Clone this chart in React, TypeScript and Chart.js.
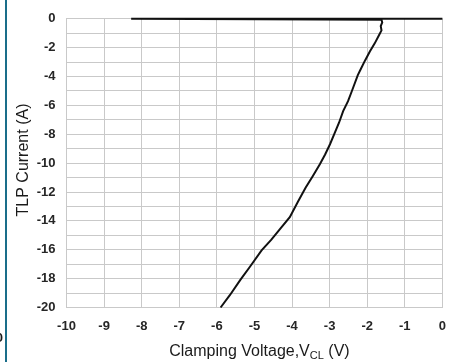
import React, { useEffect, useRef } from "react";
import { Chart, registerables } from "chart.js";

Chart.register(...registerables);

const voltage = [0, -8.28, -1.62, -1.6, -1.64, -1.62, -1.68, -1.8, -1.93, -2.06, -2.18, -2.25, -2.41, -2.51, -2.64, -2.75, -2.88, -2.99, -3.12, -3.26, -3.45, -3.64, -3.84, -4.06, -4.3, -4.55, -4.81, -5.12, -5.38, -5.65, -5.9];
const current = [0, 0, -0.06, -0.25, -0.5, -0.8, -1.1, -1.7, -2.27, -2.9, -3.53, -3.9, -5.02, -5.71, -6.4, -7.2, -8.0, -8.69, -9.4, -10.07, -10.9, -11.7, -12.65, -13.74, -14.5, -15.3, -16.04, -17.18, -18.1, -19.13, -20];

const xTitleMain = "Clamping Voltage,V";
const xTitleSub = "CL";
const xTitleEnd = " (V)";
const yTitle = "TLP Current (A)";

const FONT = "'Liberation Sans', Arial, sans-serif";

const titlePlugin = {
  id: "titles",
  afterDraw(chart: any) {
    const ctx = chart.ctx as CanvasRenderingContext2D;
    const area = chart.chartArea;
    ctx.save();
    ctx.fillStyle = "#1a1a1a";
    const mainFont = `16px ${FONT}`;
    const subFont = `11px ${FONT}`;
    ctx.font = mainFont;
    const w1 = ctx.measureText(xTitleMain).width;
    const w3 = ctx.measureText(xTitleEnd).width;
    ctx.font = subFont;
    const w2 = ctx.measureText(xTitleSub).width;
    const total = w1 + w2 + w3;
    const cx = (area.left + area.right) / 2 + 5;
    let x = cx - total / 2;
    const y = 352;
    ctx.textBaseline = "middle";
    ctx.textAlign = "left";
    ctx.font = mainFont;
    ctx.fillText(xTitleMain, x, y);
    x += w1;
    ctx.font = subFont;
    ctx.fillText(xTitleSub, x, y + 4);
    x += w2;
    ctx.font = mainFont;
    ctx.fillText(xTitleEnd, x, y);
    ctx.save();
    ctx.translate(24, 160);
    ctx.rotate(-Math.PI / 2);
    ctx.textAlign = "center";
    ctx.textBaseline = "middle";
    ctx.font = `16px ${FONT}`;
    ctx.fillText(yTitle, 0, 0);
    ctx.restore();
    ctx.font = `bold 13px ${FONT}`;
    ctx.textAlign = "right";
    ctx.fillText("0", 3, 338);
    ctx.fillStyle = "#1a6e8a";
    ctx.fillRect(5, 0, 2, chart.height);
    ctx.restore();
  },
};

export default function App() {
  const ref = useRef<HTMLCanvasElement>(null);
  useEffect(() => {
    if (!ref.current) return;
    const points = voltage.map((v, i) => ({ x: v, y: current[i] }));
    const chart = new Chart(ref.current, {
      type: "line",
      data: {
        datasets: [
          {
            data: points,
            borderColor: "#111111",
            borderWidth: 2,
            pointRadius: 0,
            tension: 0,
            fill: false,
            clip: 4,
          } as any,
        ],
      },
      options: {
        animation: false,
        responsive: false,
        devicePixelRatio: 1,
        layout: { padding: { left: 0, right: 14.5, top: 17, bottom: 0 } },
        plugins: { legend: { display: false }, tooltip: { enabled: false } },
        scales: {
          x: {
            type: "linear",
            min: -10,
            max: 0,
            ticks: {
              stepSize: 1,
              padding: 11,
              color: "#262626",
              font: { family: FONT, size: 13, weight: "bold" },
              maxRotation: 0,
            },
            grid: { color: "#c9c9c9", lineWidth: 1, drawTicks: false },
            border: { color: "#c9c9c9" },
            afterFit: (s: any) => {
              s.height = 54.5;
            },
          },
          y: {
            type: "linear",
            min: -20,
            max: 0,
            ticks: {
              stepSize: 1,
              padding: 11,
              color: "#262626",
              font: { family: FONT, size: 13, weight: "bold" },
              callback: (v: any) => (Number(v) % 2 === 0 ? String(v) : ""),
              autoSkip: false,
            },
            grid: { color: "#c9c9c9", lineWidth: 1, drawTicks: false },
            border: { color: "#c9c9c9" },
            afterFit: (s: any) => {
              s.width = 66.5;
            },
          },
        },
      },
      plugins: [titlePlugin],
    });
    return () => chart.destroy();
  }, []);
  return (
    <div style={{ position: "absolute", left: 0, top: 0, width: 457, height: 362, background: "#fff" }}>
      <canvas ref={ref} width={457} height={362} style={{ display: "block" }} />
    </div>
  );
}
